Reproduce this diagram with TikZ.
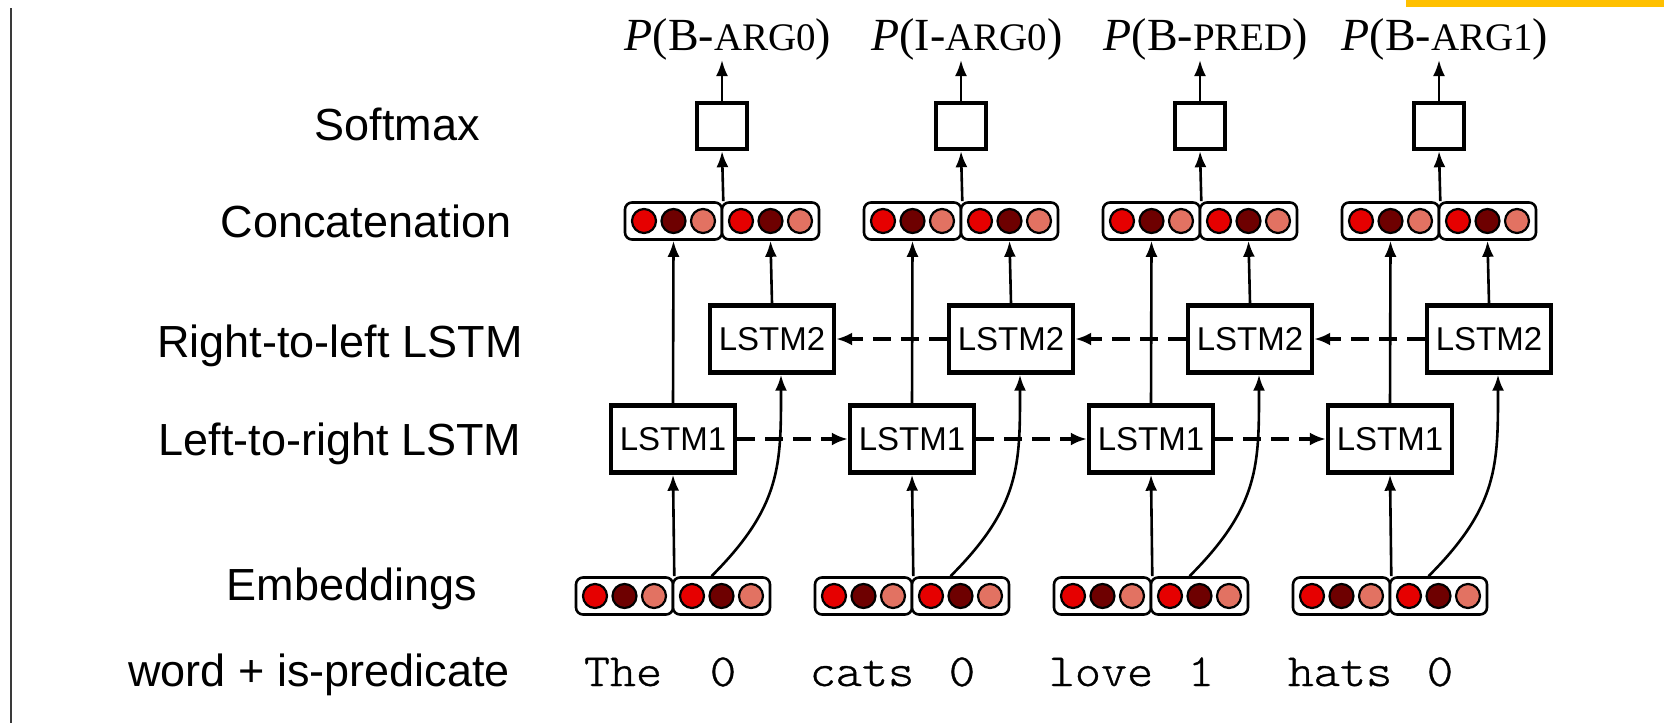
\documentclass[tikz,border=0pt]{standalone}
\usepackage{fontspec}
\setmainfont{Liberation Serif}
\setsansfont{Liberation Sans}
\newfontfamily\wordfont{lmmonolt10-regular.otf}[FakeStretch=1.08,FakeBold=0.8]
\usepackage{tikz}
\usetikzlibrary{arrows.meta,positioning,calc}
\definecolor{unitRed}{HTML}{E60000}
\definecolor{unitDark}{HTML}{6E0000}
\definecolor{unitSalmon}{HTML}{E27262}
\definecolor{slideGold}{HTML}{FFC000}
\definecolor{frameGray}{HTML}{3A3A3A}
\tikzset{
  rowlabel/.style={
    inner sep=0pt,
    anchor=base,
    font=\fontsize{22.5}{27}\sffamily\selectfont
  },
  problabel/.style={
    inner sep=0pt,
    anchor=base,
    font=\fontsize{23}{28}\selectfont
  },
  wordlabel/.style={
    inner sep=0pt,
    anchor=base,
    font=\fontsize{23}{27}\wordfont
  },
  lstmbox/.style={
    rectangle,
    draw,
    fill=white,
    line width=2.2pt,
    minimum width=62pt,
    minimum height=33.5pt,
    inner sep=0pt,
    font=\fontsize{16.5}{19}\sffamily\selectfont
  },
  softbox/.style={
    rectangle,
    draw,
    fill=white,
    line width=2.2pt,
    minimum width=25pt,
    minimum height=23pt,
    inner sep=0pt
  },
  halfvec/.style={
    rectangle,
    rounded corners=3.5pt,
    draw,
    fill=white,
    line width=1.3pt,
    minimum width=48.5pt,
    minimum height=18.5pt,
    inner sep=0pt
  },
  unit/.style={
    circle,
    draw,
    line width=1.1pt,
    minimum size=12pt,
    inner sep=0pt
  },
  arrow/.style={
    -{Latex[length=8pt,width=6pt]},
    line width=1.3pt
  },
  recur/.style={
    -{Latex[length=8pt,width=6.5pt]},
    line width=2pt,
    dash pattern=on 9pt off 5pt
  }
}
% three units inside one half of a vector
\newcommand{\vecunits}[1]{%
  \node[unit,fill=unitRed] (#1a) at ($(#1)+(-29.5,0)$) {};
  \node[unit,fill=unitDark] (#1b) at (#1) {};
  \node[unit,fill=unitSalmon] (#1c) at ($(#1)+(29.5,0)$) {};
}
\newcommand{\argsc}[1]{{\fontsize{19.5}{21}\selectfont #1}}

\begin{document}
\begin{tikzpicture}[x=0.5pt,y=-0.5pt]
  \useasboundingbox (0,0) rectangle (1664,723);
  \fill[slideGold] (1406,0) rectangle (1664,7);
  \draw[frameGray,line width=1pt] (11,8) -- (11,723);

  % row labels
  \node[rowlabel] (lsoft) at (397,140) {Softmax};
  \node[rowlabel] (lconcat) at (366,237) {Concatenation};
  \node[rowlabel] (lright) at (340,357) {Right-to-left LSTM};
  \node[rowlabel] (lleft) at (340,455) {Left-to-right LSTM};
  \node[rowlabel] (lemb) at (352,600) {Embeddings};
  \node[rowlabel] (lword) at (319,686) {word + is-predicate};

  \foreach \i/\w/\d/\tag/\role in {0/The/0/B/ARG0,1/cats/0/I/ARG0,2/love/1/B/PRED,3/hats/0/B/ARG1} {
    \pgfmathsetmacro{\xa}{673+239*\i}
    % embeddings and words
    \node[halfvec] (embL\i) at (\xa-48.5,596) {};
    \node[halfvec] (embR\i) at (\xa+48.5,596) {};
    \vecunits{embL\i}
    \vecunits{embR\i}
    \node[wordlabel] (word\i) at (\xa-50,686) {\w};
    \node[wordlabel] (flag\i) at (\xa+50,686) {\d};
    % the two LSTM layers
    \node[lstmbox] (lstmA\i) at (\xa,439) {LSTM1};
    \node[lstmbox] (lstmB\i) at (\xa+99,339) {LSTM2};
    % concatenation, softmax, output
    \node[halfvec] (catL\i) at (\xa+0.5,221) {};
    \node[halfvec] (catR\i) at (\xa+97.5,221) {};
    \vecunits{catL\i}
    \vecunits{catR\i}
    \node[softbox] (soft\i) at (\xa+49,126) {};
    \node[problabel] (prob\i) at (\xa+55,50) {\textit{P}(\tag-\argsc{\role})};
    \coordinate (out\i) at (\xa+49,60);

    \draw[arrow] (embL\i.north east) -- (lstmA\i.south);
    \draw[arrow] ($(embR\i.north)+(-10,0)$) .. controls ($(embR\i.north)+(60,-70)$) and ($(lstmB\i.south)+(9,90)$) .. ($(lstmB\i.south)+(9,0)$);
    \draw[arrow] (lstmA\i.north) -- (catL\i.south);
    \draw[arrow] (lstmB\i.north) -- (catR\i.south);
    \draw[arrow] (catL\i.north east) -- (soft\i.south);
    \draw[arrow] (soft\i.north) -- (out\i);
  }

  \foreach \i/\j in {0/1,1/2,2/3} {
    \draw[recur] (lstmA\i) -- (lstmA\j);
    \draw[recur] (lstmB\j) -- (lstmB\i);
  }
\end{tikzpicture}
\end{document}
